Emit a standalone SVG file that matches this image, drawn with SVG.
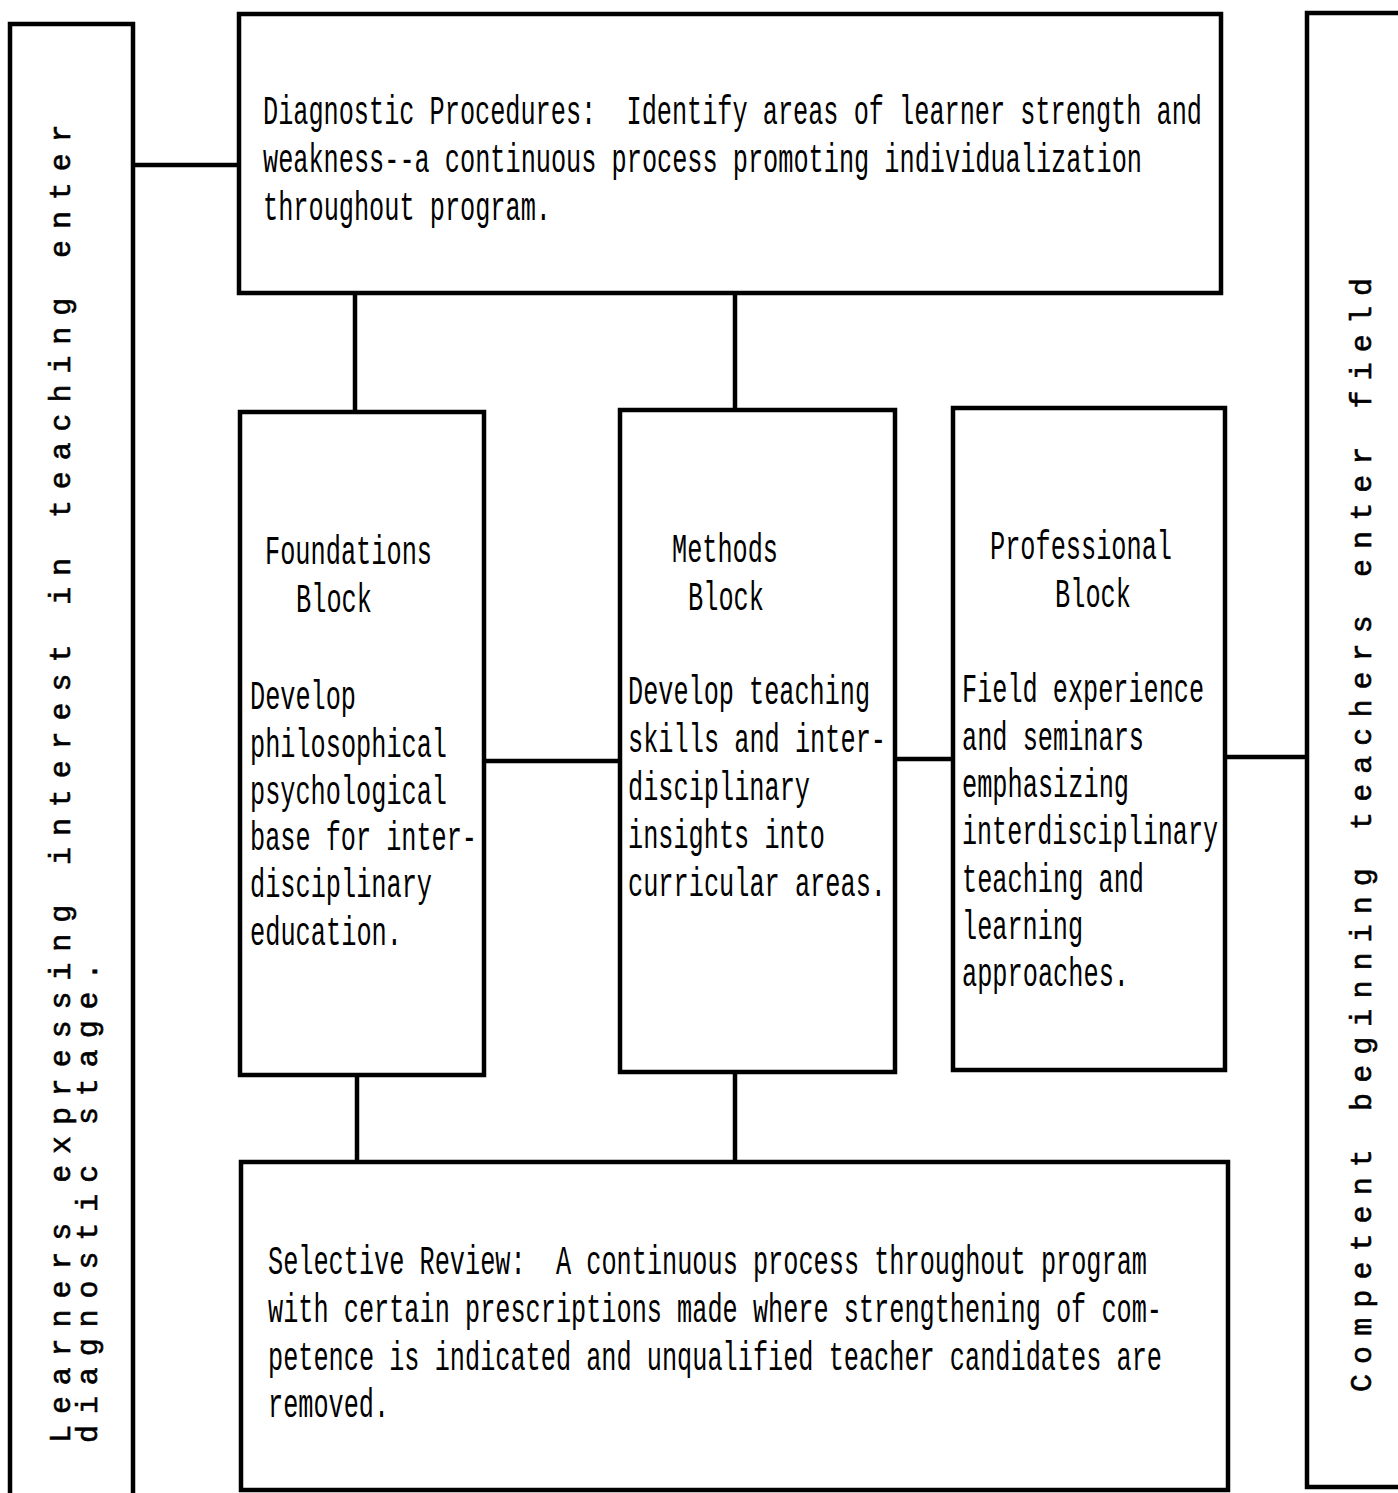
<svg xmlns="http://www.w3.org/2000/svg" width="1398" height="1493" viewBox="0 0 1398 1493">
<style>
.box{fill:none;stroke:#000;stroke-width:4.5}
.ln{stroke:#000;stroke-width:4.5;fill:none}
.t{font-family:"Liberation Mono","DejaVu Sans Mono",monospace;font-size:40px;fill:#000}
.v{font-family:"Liberation Mono","DejaVu Sans Mono",monospace;font-size:30px;fill:#000;stroke:#000;stroke-width:0.6}
</style>
<rect width="1398" height="1493" fill="#fff"/>
<g id="connectors">
<line class="ln" x1="132" y1="165" x2="239" y2="165"/>
<line class="ln" x1="355" y1="293" x2="355" y2="412"/>
<line class="ln" x1="735" y1="293" x2="735" y2="410"/>
<line class="ln" x1="484" y1="761" x2="620" y2="761"/>
<line class="ln" x1="895" y1="759" x2="953" y2="759"/>
<line class="ln" x1="1225" y1="757" x2="1307" y2="757"/>
<line class="ln" x1="357" y1="1075" x2="357" y2="1162"/>
<line class="ln" x1="735" y1="1072" x2="735" y2="1162"/>
</g>
<g id="left-entry">
<rect class="box" x="10" y="24" width="123" height="1490"/>
<text class="v" transform="translate(70,1443) rotate(-90)" letter-spacing="10.9">Learners expressing interest in teaching enter</text>
<text class="v" transform="translate(97,1443) rotate(-90)" letter-spacing="10.9">diagnostic stage.</text>
</g>
<g id="diagnostic">
<rect class="box" x="239" y="14" width="982" height="279"/>
<text class="t" xml:space="preserve" x="263" y="124" textLength="939" lengthAdjust="spacingAndGlyphs">Diagnostic Procedures:  Identify areas of learner strength and</text>
<text class="t" xml:space="preserve" x="263" y="172" textLength="879" lengthAdjust="spacingAndGlyphs">weakness--a continuous process promoting individualization</text>
<text class="t" xml:space="preserve" x="263" y="220" textLength="288" lengthAdjust="spacingAndGlyphs">throughout program.</text>
</g>
<g id="foundations">
<rect class="box" x="240" y="412" width="244" height="663"/>
<text class="t" x="265" y="564" textLength="167" lengthAdjust="spacingAndGlyphs">Foundations</text>
<text class="t" x="296" y="612" textLength="76" lengthAdjust="spacingAndGlyphs">Block</text>
<text class="t" x="250" y="709" textLength="106" lengthAdjust="spacingAndGlyphs">Develop</text>
<text class="t" x="250" y="757" textLength="197" lengthAdjust="spacingAndGlyphs">philosophical</text>
<text class="t" x="250" y="804" textLength="197" lengthAdjust="spacingAndGlyphs">psychological</text>
<text class="t" x="250" y="850" textLength="227" lengthAdjust="spacingAndGlyphs">base for inter-</text>
<text class="t" x="250" y="897" textLength="182" lengthAdjust="spacingAndGlyphs">disciplinary</text>
<text class="t" x="250" y="945" textLength="152" lengthAdjust="spacingAndGlyphs">education.</text>
</g>
<g id="methods">
<rect class="box" x="620" y="410" width="275" height="662"/>
<text class="t" x="672" y="562" textLength="106" lengthAdjust="spacingAndGlyphs">Methods</text>
<text class="t" x="688" y="610" textLength="76" lengthAdjust="spacingAndGlyphs">Block</text>
<text class="t" x="628" y="704" textLength="242" lengthAdjust="spacingAndGlyphs">Develop teaching</text>
<text class="t" x="628" y="752" textLength="258" lengthAdjust="spacingAndGlyphs">skills and inter-</text>
<text class="t" x="628" y="800" textLength="182" lengthAdjust="spacingAndGlyphs">disciplinary</text>
<text class="t" x="628" y="848" textLength="197" lengthAdjust="spacingAndGlyphs">insights into</text>
<text class="t" x="628" y="896" textLength="258" lengthAdjust="spacingAndGlyphs">curricular areas.</text>
</g>
<g id="professional">
<rect class="box" x="953" y="408" width="272" height="662"/>
<text class="t" x="990" y="559" textLength="182" lengthAdjust="spacingAndGlyphs">Professional</text>
<text class="t" x="1055" y="607" textLength="76" lengthAdjust="spacingAndGlyphs">Block</text>
<text class="t" x="962" y="702" textLength="242" lengthAdjust="spacingAndGlyphs">Field experience</text>
<text class="t" x="962" y="750" textLength="182" lengthAdjust="spacingAndGlyphs">and seminars</text>
<text class="t" x="962" y="797" textLength="167" lengthAdjust="spacingAndGlyphs">emphasizing</text>
<text class="t" x="962" y="844" textLength="256" lengthAdjust="spacingAndGlyphs">interdisciplinary</text>
<text class="t" x="962" y="892" textLength="182" lengthAdjust="spacingAndGlyphs">teaching and</text>
<text class="t" x="962" y="939" textLength="121" lengthAdjust="spacingAndGlyphs">learning</text>
<text class="t" x="962" y="986" textLength="167" lengthAdjust="spacingAndGlyphs">approaches.</text>
</g>
<g id="review">
<rect class="box" x="241" y="1162" width="987" height="328"/>
<text class="t" xml:space="preserve" x="268" y="1274" textLength="879" lengthAdjust="spacingAndGlyphs">Selective Review:  A continuous process throughout program</text>
<text class="t" xml:space="preserve" x="268" y="1322" textLength="894" lengthAdjust="spacingAndGlyphs">with certain prescriptions made where strengthening of com-</text>
<text class="t" xml:space="preserve" x="268" y="1370" textLength="894" lengthAdjust="spacingAndGlyphs">petence is indicated and unqualified teacher candidates are</text>
<text class="t" xml:space="preserve" x="268" y="1417" textLength="121" lengthAdjust="spacingAndGlyphs">removed.</text>
</g>
<g id="right-exit">
<rect class="box" x="1307" y="13" width="130" height="1474"/>
<text class="v" transform="translate(1371,1392) rotate(-90)" letter-spacing="10.1">Competent beginning teachers enter field</text>
</g>
</svg>
